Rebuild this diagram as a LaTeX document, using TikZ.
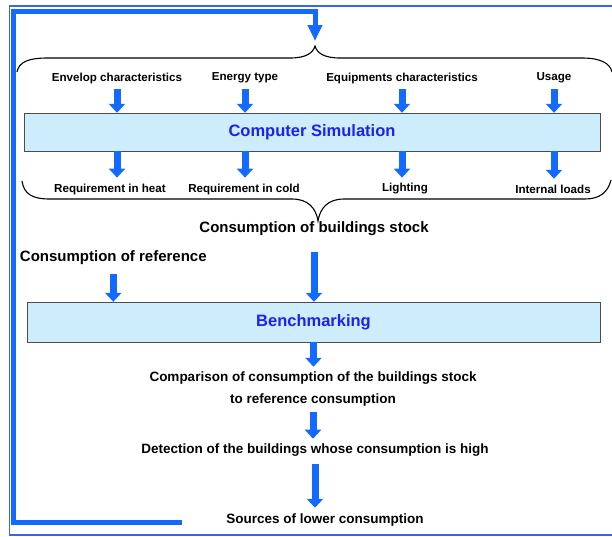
\documentclass[tikz,border=0pt]{standalone}
\usepackage{fontspec}
\setmainfont{Liberation Sans}
\usetikzlibrary{arrows.meta}

\definecolor{loopblue}{RGB}{20,105,255}
\definecolor{frameblue}{RGB}{60,100,230}
\definecolor{boxfill}{RGB}{205,236,252}
\definecolor{titleblue}{RGB}{25,35,235}

\begin{document}
\begin{tikzpicture}[x=1pt,y=1pt,yscale=-1,
  inlbl/.style={inner sep=0.75pt,font=\bfseries\fontsize{11.6}{12}\selectfont},
  steptxt/.style={inner sep=0.75pt,align=center,font=\bfseries\fontsize{13.5}{22}\selectfont},
  bigtxt/.style={inner sep=0.75pt,font=\bfseries\fontsize{15}{17}\selectfont},
  procbox/.style={draw=black!70,fill=boxfill,inner sep=0pt,text=titleblue,font=\bfseries\fontsize{16.5}{18}\selectfont},
  flowarrow/.style={draw=loopblue,line width=7pt,-{Triangle[width=16pt,length=9pt]}},
  bracepath/.style={draw=black,line width=1.1pt},
]
\useasboundingbox (0,0) rectangle (612,536);

% outer frame
\draw [frameblue,line width=1.2pt] (612,6) -- (9.5,6) -- (9.5,535) -- (612,535) ;

% Process boxes
\node [procbox,minimum width=576pt,minimum height=38pt] (sim) at (312,132) {Computer Simulation};
\node [procbox,minimum width=573pt,minimum height=40pt] (bench) at (313.5,322) {Benchmarking};

% Inputs of the simulation
\node [inlbl] (envlp) at (117,78) {Envelop characteristics};
\node [inlbl] (enrg) at (245,78) {Energy type};
\node [inlbl] (equip) at (402,78) {Equipments characteristics};
\node [inlbl] (usage) at (554,78) {Usage};

% Outputs of the simulation
\node [inlbl] (heat) at (110,189) {Requirement in heat};
\node [inlbl] (cold) at (244,189) {Requirement in cold};
\node [inlbl] (light) at (405,189) {Lighting};
\node [inlbl] (loads) at (553,189) {Internal loads};

% Text Node
\node [bigtxt] (stock) at (314,229) {Consumption of buildings stock};
\node [bigtxt,anchor=west] (refcons) at (19,258) {Consumption of reference};
\node [steptxt] (compare) at (313,389) {Comparison of consumption of the buildings stock\\to reference consumption};
\node [steptxt] (detect) at (315,450) {Detection of the buildings whose consumption is high};
\node [steptxt] (src) at (325,520) {Sources of lower consumption};

% Braces
\coordinate (toptip) at (315,46);
\draw [bracepath] (17,72) .. controls (19,62) and (28,58) .. (48,58) -- (290,58) .. controls (306,58) and (313,53) .. (toptip) .. controls (317,53) and (324,58) .. (340,58) -- (582,58) .. controls (600,58) and (610,63) .. (612,72) ;
\draw [bracepath] (22,181) .. controls (24,194) and (32,199) .. (50,199) -- (292,199) .. controls (308,199) and (316,208) .. (318,221) .. controls (320,208) and (328,199) .. (344,199) -- (585,199) .. controls (600,199) and (608,192) .. (611,180) ;

% Arrows into and out of the simulation
\foreach \inp in {envlp,enrg,equip,usage}
  \draw [flowarrow,shorten <=5pt] (\inp.south) -- (\inp.south |- sim.north) ;
\foreach \inp/\outp in {envlp/heat,enrg/cold,equip/light,usage/loads}
  \draw [flowarrow,shorten >=5pt] (\inp.south |- sim.south) -- (\inp.south |- \outp.north) ;

% Arrows of the benchmarking chain
\draw [flowarrow,shorten <=8pt] (refcons.south) -- (refcons.south |- bench.north) ;
\draw [flowarrow,shorten <=15pt] (stock.south) -- (stock.south |- bench.north) ;
\draw [flowarrow,shorten >=4pt] (bench.south) -- (bench.south |- compare.north) ;
\draw [flowarrow,shorten <=5pt,shorten >=4pt] (compare.south) -- (compare.south |- detect.north) ;
\draw [flowarrow,shorten <=7pt,shorten >=5pt] (detect.south) -- (detect.south |- src.north) ;

% Feedback loop
\coordinate (fbstart) at (182,522.5);
\draw [loopblue,line width=5pt,-{Triangle[width=14pt,length=16pt]},shorten >=5pt] (fbstart) -| (13.5,11.5) -| (toptip) ;

\end{tikzpicture}
\end{document}
